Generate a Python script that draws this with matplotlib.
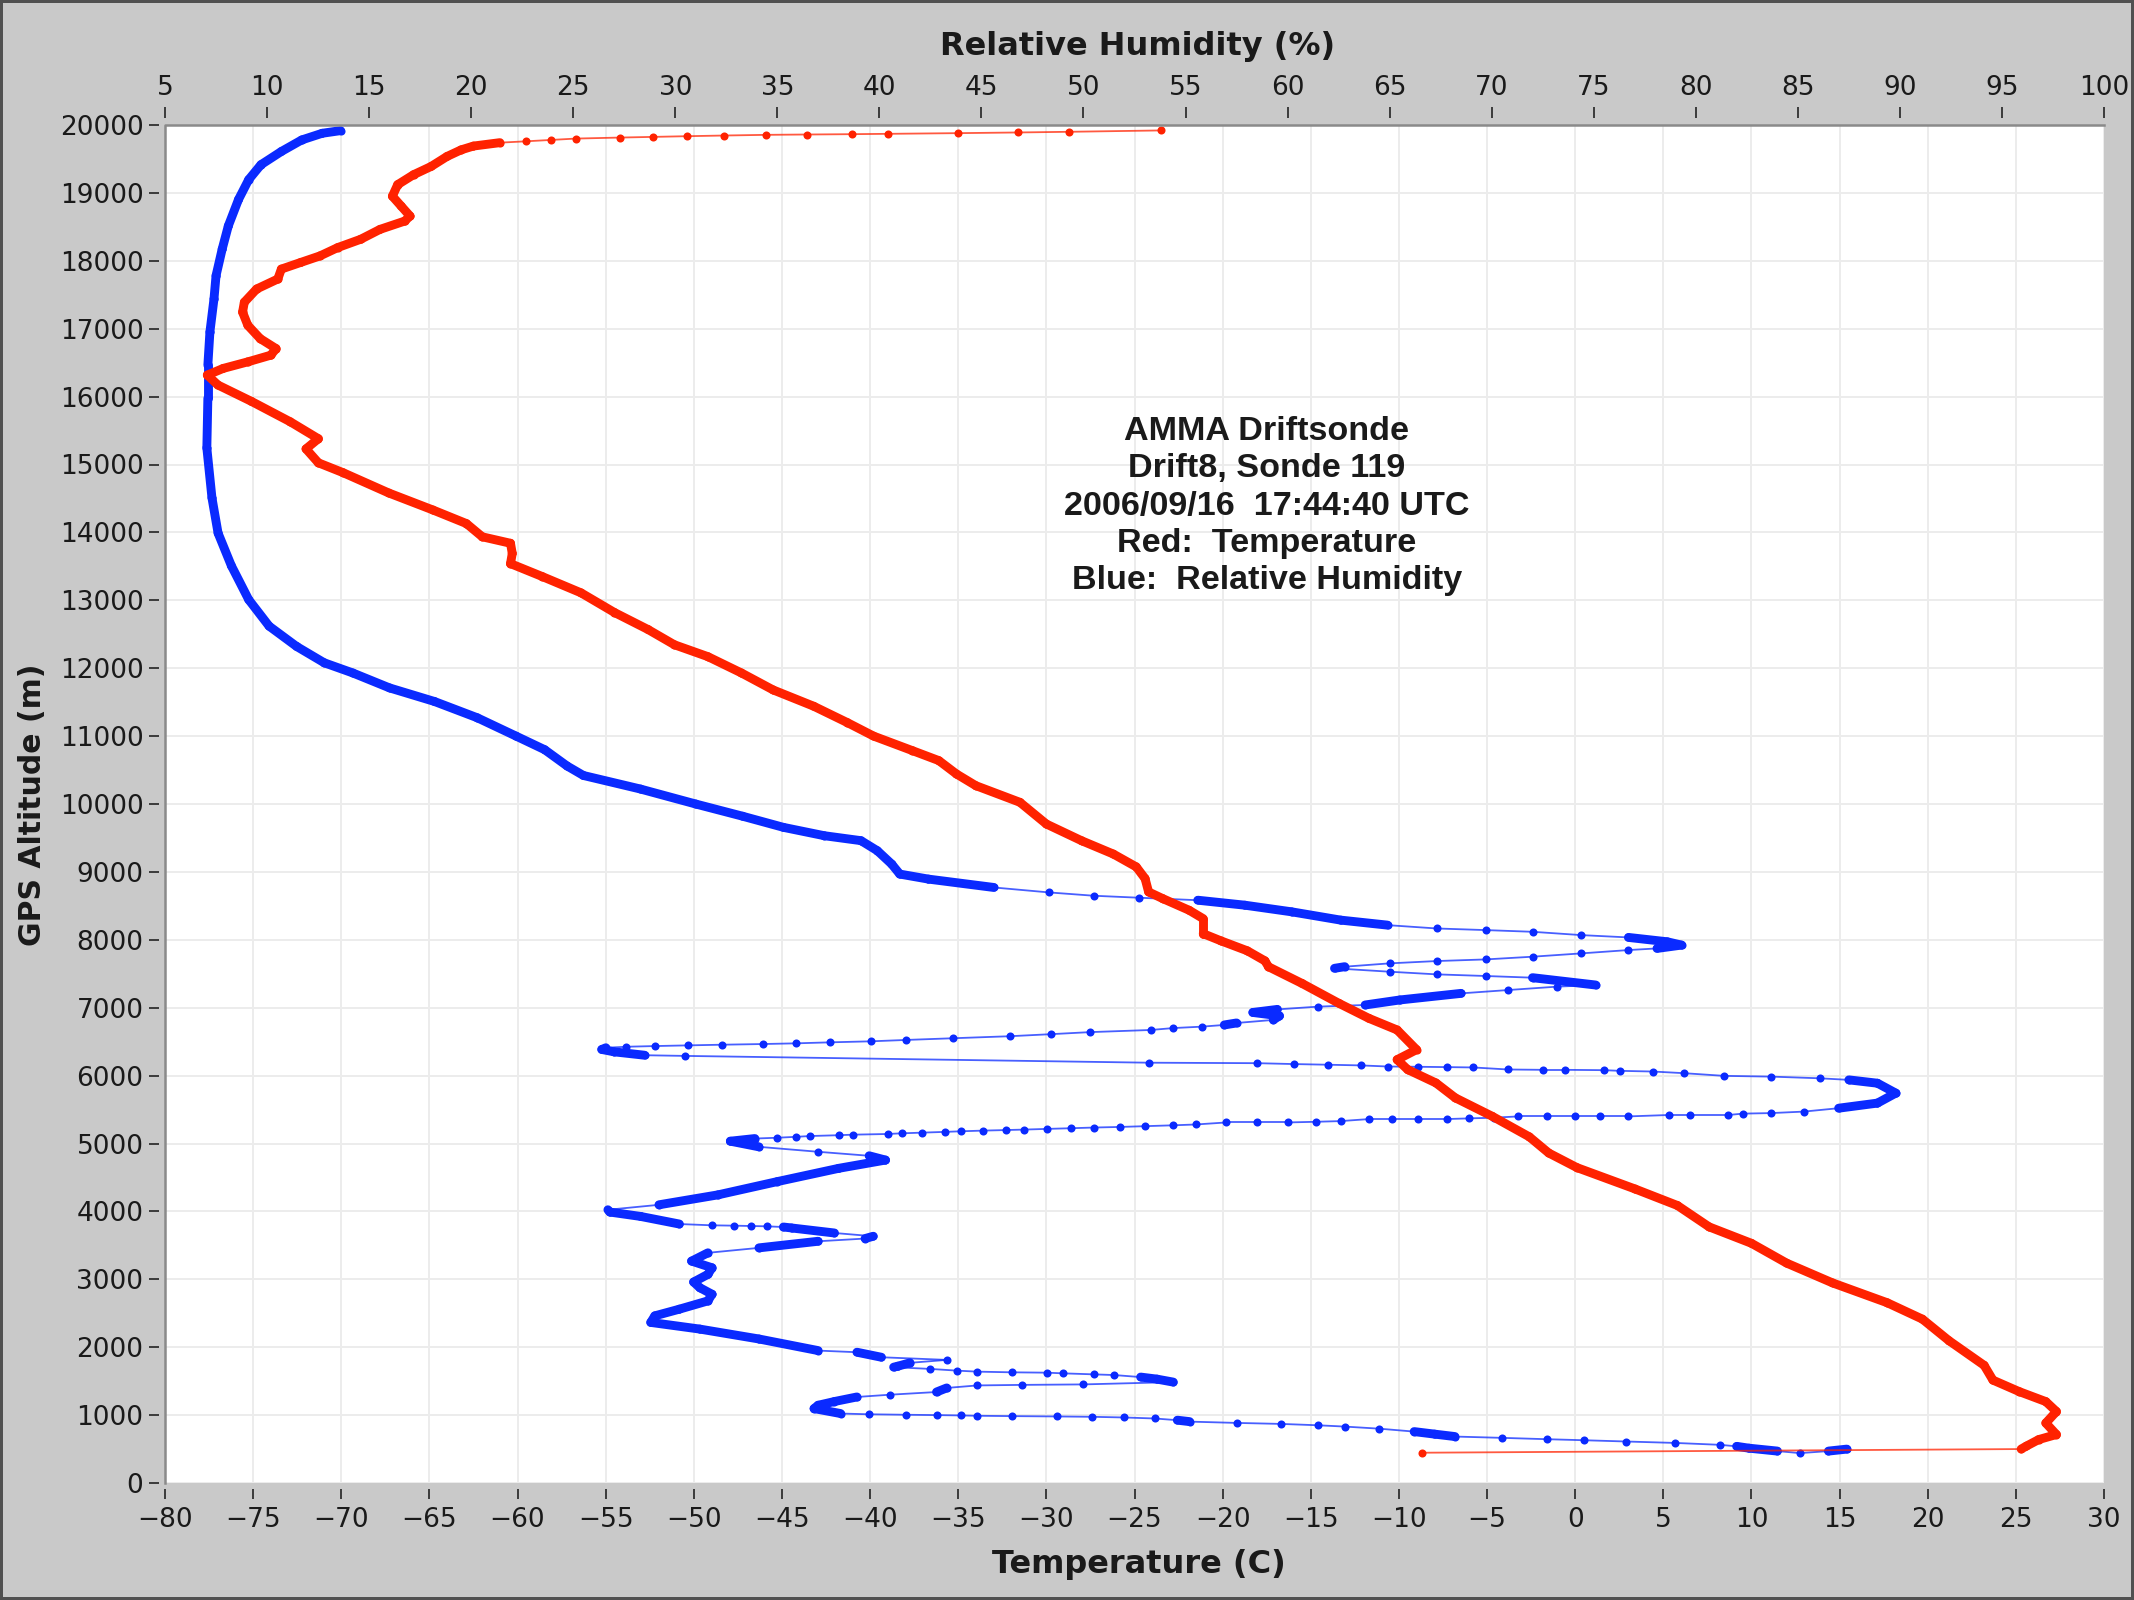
import numpy as np
import matplotlib
matplotlib.use("Agg")
import matplotlib.pyplot as plt
from matplotlib.collections import LineCollection
from matplotlib.lines import Line2D

# ---------------- data ----------------
# Temperature profile (red, bottom axis), altitude descending
temp_alt = [19920, 19900, 19890, 19880, 19870, 19865, 19860, 19855, 19845, 19835,
            19825, 19815, 19800, 19780, 19760, 19740, 19690, 19634, 19537, 19390,
            19268, 19122, 18951, 18805, 18659, 18585, 18463, 18317, 18195, 18073,
            17976, 17878, 17732, 17585, 17390, 17244, 17049, 16854, 16707, 16610,
            16512, 16415, 16317, 16171, 15930, 15630, 15380, 15230, 15025, 14880,
            14580, 14330, 14130, 13935, 13840, 13690, 13540, 13350, 13110, 12820,
            12570, 12345, 12170, 11930, 11680, 11440, 11200, 11000, 10786, 10639,
            10442, 10270, 10025, 9705, 9459, 9263, 9074, 8902, 8705, 8607,
            8435, 8311, 8090, 7985, 7838, 7690, 7603, 7358, 7064, 6843,
            6672, 6382, 6235, 6088, 5892, 5672, 5400, 5098, 4860, 4645,
            4330, 4087, 3772, 3530, 3238, 2947, 2655, 2413, 2097, 1733,
            1515, 1345, 1199, 1053, 883, 714, 640, 544, 500, 446]
temp_val = [-23.5, -28.7, -31.6, -35.0, -39.0, -41.0, -43.6, -45.9, -48.3, -50.4,
            -52.3, -54.2, -56.7, -58.1, -59.5, -61.0, -62.5, -63.2, -64.0, -64.9,
            -65.9, -66.8, -67.1, -66.6, -66.1, -66.4, -67.8, -68.9, -70.2, -71.2,
            -72.3, -73.4, -73.6, -74.8, -75.5, -75.6, -75.3, -74.6, -73.7, -74.0,
            -75.3, -76.7, -77.6, -77.0, -75.1, -72.9, -71.3, -72.0, -71.3, -69.9,
            -67.3, -64.8, -62.9, -62.0, -60.4, -60.3, -60.4, -58.6, -56.4, -54.5,
            -52.6, -51.1, -49.2, -47.3, -45.5, -43.2, -41.3, -39.8, -37.6, -36.1,
            -35.1, -34.0, -31.5, -30.0, -28.0, -26.2, -24.9, -24.4, -24.2, -23.4,
            -21.9, -21.1, -21.1, -20.1, -18.6, -17.6, -17.4, -15.5, -13.4, -11.7,
            -10.1, -9.0, -10.1, -9.5, -7.9, -6.8, -4.7, -2.6, -1.5, 0.1,
            3.4, 5.8, 7.6, 10.0, 12.0, 14.6, 17.7, 19.7, 21.2, 23.2,
            23.7, 25.2, 26.7, 27.3, 26.7, 27.3, 26.3, 25.6, 25.3, -8.7]

# Relative humidity profile (blue, top axis), altitude descending
rh_alt = [19917, 19878, 19780, 19610, 19415, 19195, 18902, 18512, 18171, 17780,
          17439, 16951, 16463, 15976, 15244, 14510, 13990, 13510, 13010, 12620,
          12320, 12080, 11930, 11710, 11510, 11270, 11000, 10800, 10560, 10420,
          10220, 10000, 9820, 9656, 9533, 9460, 9312, 9116, 8968, 8894,
          8771, 8698, 8649, 8620, 8583, 8510, 8412, 8290, 8216, 8167,
          8143, 8118, 8069, 8035, 7971, 7922, 7873, 7849, 7800, 7751,
          7711, 7687, 7653, 7604, 7580, 7530, 7491, 7467, 7442, 7334,
          7310, 7260, 7211, 7114, 7040, 7016, 6975, 6930, 6880, 6820,
          6775, 6746, 6721, 6700, 6672, 6640, 6610, 6580, 6550, 6525,
          6505, 6490, 6475, 6465, 6455, 6445, 6435, 6425, 6410, 6385,
          6350, 6300, 6290, 6190, 6183, 6170, 6160, 6150, 6134, 6130,
          6125, 6120, 6090, 6085, 6085, 6080, 6070, 6060, 6036, 5996,
          5985, 5960, 5937, 5888, 5742, 5595, 5520, 5470, 5448, 5440,
          5420, 5420, 5420, 5399, 5399, 5399, 5399, 5399, 5380, 5370,
          5360, 5360, 5360, 5360, 5330, 5320, 5310, 5310, 5310, 5280,
          5268, 5255, 5244, 5235, 5225, 5215, 5205, 5198, 5190, 5180,
          5171, 5160, 5150, 5140, 5130, 5122, 5110, 5098, 5085, 5073,
          5034, 4951, 4878, 4819, 4756, 4634, 4439, 4244, 4097, 4024,
          3990, 3926, 3814, 3795, 3790, 3785, 3780, 3770, 3756, 3682,
          3634, 3600, 3560, 3463, 3390, 3268, 3170, 3073, 2960, 2877,
          2780, 2682, 2560, 2462, 2365, 2267, 2121, 1950, 1926, 1852,
          1813, 1770, 1720, 1706, 1680, 1655, 1640, 1630, 1625, 1615,
          1600, 1590, 1560, 1530, 1486, 1452, 1445, 1437, 1400, 1340,
          1300, 1267, 1200, 1145, 1096, 1023, 1012, 1005, 1000, 995,
          990, 985, 980, 975, 965, 950, 925, 904, 885, 870,
          850, 831, 800, 757, 720, 684, 665, 645, 630, 611,
          590, 562, 540, 513, 470, 440, 470, 499]
rh_val = [13.6, 12.7, 11.7, 10.7, 9.7, 9.1, 8.6, 8.1, 7.8, 7.5,
          7.4, 7.2, 7.1, 7.1, 7.05, 7.3, 7.6, 8.25, 9.1, 10.1,
          11.45, 12.8, 14.2, 16.0, 18.2, 20.3, 22.2, 23.6, 24.7, 25.5,
          28.3, 31.0, 33.3, 35.3, 37.3, 39.1, 39.9, 40.6, 41.0, 42.4,
          45.6, 48.3, 50.5, 52.7, 55.6, 57.9, 60.2, 62.6, 64.9, 67.3,
          69.7, 72.0, 74.4, 76.7, 78.6, 79.3, 78.1, 76.7, 74.4, 72.0,
          69.7, 67.3, 65.0, 62.8, 62.3, 65.0, 67.3, 69.7, 72.0, 75.1,
          73.2, 70.8, 68.5, 65.5, 63.8, 61.5, 59.5, 58.3, 59.6, 59.3,
          57.5, 56.9, 55.8, 54.4, 53.3, 50.3, 48.4, 46.4, 43.6, 41.3,
          39.6, 37.6, 35.9, 34.3, 32.3, 30.6, 29.0, 27.6, 26.6, 26.4,
          27.0, 28.5, 30.5, 53.2, 58.5, 60.3, 62.0, 63.6, 64.9, 66.4,
          67.8, 69.1, 70.8, 72.5, 73.6, 75.5, 76.3, 77.9, 79.4, 81.4,
          83.7, 86.1, 87.5, 88.9, 89.8, 88.9, 87.0, 85.3, 83.7, 82.3,
          81.6, 79.7, 78.7, 76.7, 75.3, 74.1, 72.7, 71.3, 70.1, 68.9,
          67.8, 66.4, 65.1, 64.0, 62.6, 61.4, 60.0, 58.5, 57.0, 55.5,
          54.4, 53.0, 51.8, 50.5, 49.4, 48.2, 47.1, 46.2, 45.1, 44.0,
          43.2, 42.1, 41.1, 40.4, 38.7, 38.0, 36.6, 35.9, 35.0, 33.9,
          32.7, 34.1, 37.0, 39.5, 40.3, 38.0, 35.0, 32.1, 29.2, 26.7,
          26.8, 28.3, 30.2, 31.8, 32.9, 33.7, 34.5, 35.3, 35.7, 37.8,
          39.7, 39.3, 37.0, 34.1, 31.6, 30.8, 31.8, 31.6, 30.9, 31.2,
          31.8, 31.6, 30.2, 29.0, 28.8, 31.2, 34.1, 37.0, 38.9, 40.1,
          43.3, 41.5, 40.9, 40.7, 42.5, 43.8, 44.8, 46.5, 48.2, 49.0,
          50.5, 51.5, 52.8, 53.6, 54.4, 50.0, 47.0, 44.8, 43.3, 42.8,
          40.5, 38.9, 37.8, 37.0, 36.8, 38.1, 39.5, 41.3, 42.8, 44.0,
          44.8, 46.5, 48.7, 50.4, 52.0, 53.5, 54.6, 55.2, 57.5, 59.7,
          61.5, 62.8, 64.5, 66.2, 67.2, 68.2, 70.5, 72.7, 74.5, 76.6,
          79.0, 81.2, 82.0, 82.6, 84.0, 85.1, 86.5, 87.4]

temp_ticks = list(range(-80, 31, 5))
rh_ticks = list(range(5, 101, 5))
alt_ticks = list(range(0, 20001, 1000))

annotation = ("AMMA Driftsonde\nDrift8, Sonde 119\n2006/09/16  17:44:40 UTC\n"
              "Red:  Temperature\nBlue:  Relative Humidity")

# ---------------- style ----------------
RED = "#ff2200"
BLUE = "#0a2aff"
BG = "#c9c9c9"
GRID = "#ececec"
TICKC = "#303030"
TICK_FONT = ["Liberation Sans Narrow", "DejaVu Sans Condensed", "DejaVu Sans"]
AXLABEL_FONT = ["DejaVu Sans"]
NOTE_FONT = ["Liberation Sans", "DejaVu Sans"]

W, H = 2134, 1600
fig = plt.figure(figsize=(W / 100, H / 100), dpi=100)
fig.patch.set_facecolor(BG)
fig.patch.set_edgecolor("#505050")
fig.patch.set_linewidth(4)

L, R, T, B = 165, 2104, 125, 1483
ax = fig.add_axes([L / W, 1 - B / H, (R - L) / W, (B - T) / H])
ax.set_facecolor("white")
ax2 = ax.twiny()

ax.set_xlim(-80, 30)
ax.set_ylim(0, 20000)
ax2.set_xlim(5, 100)

# grid
ax.set_axisbelow(True)
ax.set_xticks(temp_ticks)
ax.set_yticks(alt_ticks)
ax.grid(True, color=GRID, linewidth=1.4, zorder=0)
ax2.set_xticks(rh_ticks)

# spines
for s in ax.spines.values():
    s.set_visible(False)
for s in ax2.spines.values():
    s.set_visible(False)
ax.spines["left"].set_visible(True)
ax.spines["left"].set_color("none")
ax.spines["left"].set_position(("outward", 4))
ax.spines["bottom"].set_visible(True)
ax.spines["bottom"].set_color("none")
ax.spines["bottom"].set_position(("outward", 4))
ax2.spines["top"].set_visible(True)
ax2.spines["top"].set_color("none")
ax2.spines["top"].set_position(("outward", 5))

# plot border (left + top)
ax.add_line(Line2D([0, 0, 1], [0, 1, 1], transform=ax.transAxes,
                   color="#8a8a8a", linewidth=1.8, clip_on=False, zorder=5))

ax.tick_params(axis="both", direction="out", length=7.5, width=1.3,
               color=TICKC, labelcolor="#1a1a1a", labelsize=19, pad=4)
ax.tick_params(axis="x", pad=6)
ax2.tick_params(axis="x", direction="out", length=8, width=1.3,
                color=TICKC, labelcolor="#1a1a1a", labelsize=19, pad=4)
for lab in ax.get_xticklabels() + ax.get_yticklabels() + ax2.get_xticklabels():
    lab.set_family(TICK_FONT)


def draw_profile(trans, xs, ys, color, z):
    xs = np.asarray(xs, float)
    ys = np.asarray(ys, float)
    pts = trans.transform(np.column_stack([xs, ys]))
    thick, thin = [], []
    for i in range(len(xs) - 1):
        dx = abs(pts[i + 1, 0] - pts[i, 0])
        dy = abs(pts[i + 1, 1] - pts[i, 1])
        seg = [(xs[i], ys[i]), (xs[i + 1], ys[i + 1])]
        (thick if dx <= 10 * dy else thin).append(seg)
    ax.add_collection(LineCollection(thin, colors=color, linewidths=1.3,
                                     alpha=0.75, transform=trans, zorder=z),
                      autolim=False)
    ax.add_collection(LineCollection(thick, colors=color, linewidths=6.4,
                                     capstyle="round", joinstyle="round",
                                     transform=trans, zorder=z),
                      autolim=False)
    ax.add_line(Line2D(xs, ys, linestyle="none", marker="o", markersize=5.8,
                       markerfacecolor=color, markeredgecolor="none",
                       transform=trans, zorder=z))


draw_profile(ax2.transData, rh_val, rh_alt, BLUE, 3)
draw_profile(ax.transData, temp_val, temp_alt, RED, 4)

ax.set_xlim(-80, 30)
ax.set_ylim(0, 20000)
ax2.set_xlim(5, 100)

# labels
fig.text(1138 / W, 1 - 46 / H, "Relative Humidity (%)", ha="center", va="center",
         fontsize=23, fontweight="bold", family=AXLABEL_FONT, color="#1a1a1a")
fig.text(1139 / W, 1 - 1565 / H, "Temperature (C)", ha="center", va="center",
         fontsize=23, fontweight="bold", family=AXLABEL_FONT, color="#1a1a1a")
fig.text(33 / W, 1 - 805 / H, "GPS Altitude (m)", ha="center", va="center",
         rotation=90, fontsize=21.5, fontweight="bold", family=AXLABEL_FONT,
         color="#1a1a1a")

ax.text((1267 - L) / (R - L), (B - 506) / (B - T), annotation,
        transform=ax.transAxes, ha="center", va="center", multialignment="center",
        fontsize=24.6, fontweight="bold", family=NOTE_FONT, color="#1a1a1a",
        linespacing=1.27, zorder=6)

fig.savefig("out.png", dpi=100, facecolor=fig.get_facecolor(),
            edgecolor=fig.get_edgecolor())
